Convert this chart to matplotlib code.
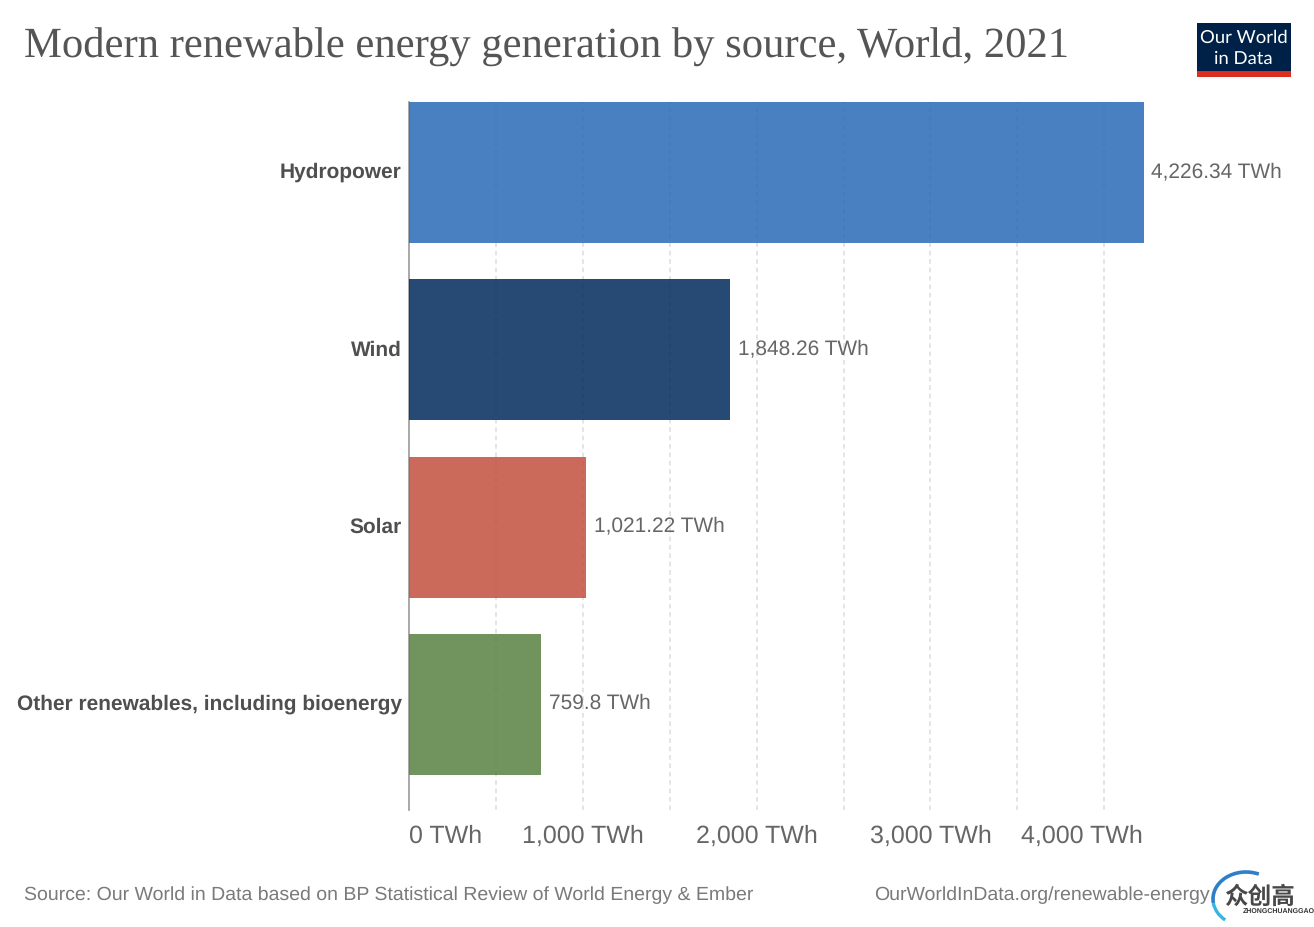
import matplotlib
matplotlib.use("Agg")
import matplotlib.pyplot as plt
from matplotlib.patches import Rectangle, Arc
from matplotlib.transforms import Affine2D

W, H = 1314, 927
sources = ["Hydropower", "Wind", "Solar", "Other renewables, including bioenergy"]
values = [4226.34, 1848.26, 1021.22, 759.8]
value_labels = ["4,226.34 TWh", "1,848.26 TWh", "1,021.22 TWh", "759.8 TWh"]
colors = ["#286ab7", "#002a5a", "#c2503d", "#588143"]
tick_values = [0, 1000, 2000, 3000, 4000]
tick_labels = ["0 TWh", "1,000 TWh", "2,000 TWh", "3,000 TWh", "4,000 TWh"]
grid_values = [500, 1000, 1500, 2000, 2500, 3000, 3500, 4000]

plt.rcParams["font.family"] = ["Liberation Sans", "DejaVu Sans"]
plt.rcParams["text.hinting"] = "none"
fig = plt.figure(figsize=(W / 100, H / 100), dpi=100, facecolor="white")

px_per_unit = 0.1738
left, right, top, bottom = 409, 1300, 102, 810
ax = fig.add_axes([left / W, 1 - bottom / H, (right - left) / W, (bottom - top) / H])
ax.set_xlim(0, (right - left) / px_per_unit)
ax.set_ylim((bottom - 172.5) / 177.3, (top - 172.5) / 177.3)

for g in grid_values:
    ax.axvline(g, color="#dcdcdc", lw=1.1, ls=(0, (3, 2.5)), zorder=1)
ax.barh(range(len(values)), values, height=0.795, color=colors, alpha=0.85, zorder=2)

for i, (v, lab) in enumerate(zip(values, value_labels)):
    ax.annotate(lab, (v, i), xytext=(5.6, 0.6), textcoords="offset points", va="center",
                ha="left", fontsize=15, color="#666666")

ax.set_yticks(range(len(values)))
ax.set_yticklabels(sources, fontsize=15, fontweight="bold", color="#4f4f4f")
ax.tick_params(axis="y", length=0, pad=5.3)
ax.set_xticks(tick_values)
ax.set_xticklabels(tick_labels, fontsize=18, color="#666666")
ax.tick_params(axis="x", length=0, pad=10.5)
for s in ["top", "right", "bottom"]:
    ax.spines[s].set_visible(False)
ax.spines["left"].set_color("#999999")
ax.spines["left"].set_linewidth(1.2)
ax.spines["left"].set_zorder(1)

# first tick label starts at the axis; last one is pulled back to end at the bar's end
xlabels = ax.get_xticklabels()
xlabels[0].set_ha("left")
xlabels[-1].set_transform(xlabels[-1].get_transform() + Affine2D().translate(-22, 0))
for lab in ax.get_yticklabels():
    lab.set_transform(lab.get_transform() + Affine2D().translate(0, 2))

def fx(x): return x / W
def fy(y): return 1 - y / H

fig.text(fx(24), fy(47), "Modern renewable energy generation by source, World, 2021",
         family=["Liberation Serif", "DejaVu Serif"], fontsize=30.7, color="#555555", va="center", ha="left")
fig.text(fx(24), fy(895), "Source: Our World in Data based on BP Statistical Review of World Energy & Ember",
         fontsize=14, color="#7a7a7a", va="center", ha="left")
fig.text(fx(874), fy(895), "OurWorldInData.org/renewable-energy", fontsize=14, color="#7a7a7a", va="center", ha="left")

# Logo
fig.add_artist(Rectangle((fx(1197), fy(77)), 94 / W, 54 / H, transform=fig.transFigure, color="#002147", lw=0))
fig.add_artist(Rectangle((fx(1197), fy(77)), 94 / W, 6 / H, transform=fig.transFigure, color="#dc2e1f", lw=0))
fig.text(fx(1243.5), fy(38), "Our World", fontsize=13.3, family="Lato", color="white", ha="center", va="center")
fig.text(fx(1243), fy(59), "in Data", fontsize=13.3, family="Lato", color="white", ha="center", va="center")

# Watermark
fig.add_artist(Arc((fx(1246), fy(899)), 66 / W, 54 / H, theta1=70, theta2=190,
                   transform=fig.transFigure, color="#2f7fc8", lw=2.6))
fig.add_artist(Arc((fx(1246), fy(899)), 66 / W, 54 / H, theta1=190, theta2=235,
                   transform=fig.transFigure, color="#35b6e0", lw=2.4))
fig.text(fx(1259), fy(897), "众创高", family=["Noto Sans CJK SC", "DejaVu Sans"], fontsize=17,
         fontweight="bold", color="#484848", ha="center", va="center")
fig.text(fx(1279), fy(911), "ZHONGCHUANGGAO", fontsize=5, fontweight="bold", color="#333333", ha="center", va="center")

fig.savefig("out.png", dpi=100)
